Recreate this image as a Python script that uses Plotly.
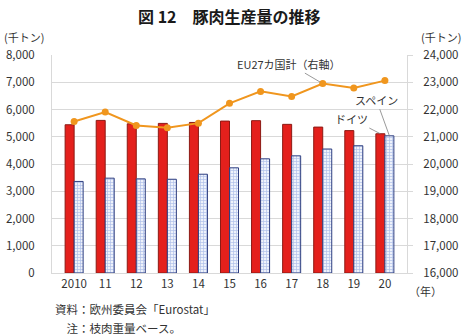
import plotly.graph_objects as go

# Pork production, thousand tonnes
years = ["2010", "11", "12", "13", "14", "15", "16", "17", "18", "19", "20"]
germany = [5440, 5600, 5475, 5490, 5525, 5575, 5590, 5455, 5355, 5225, 5110]
spain = [3360, 3480, 3455, 3440, 3625, 3860, 4190, 4300, 4550, 4670, 5035]
eu27_total = [21560, 21905, 21415, 21330, 21500, 22225, 22665, 22480, 22950, 22790, 23060]

left_ticks = [0, 1000, 2000, 3000, 4000, 5000, 6000, 7000, 8000]
right_ticks = [16000, 17000, 18000, 19000, 20000, 21000, 22000, 23000, 24000]

FONT = "Noto Sans CJK JP"
GRID = "#d9d9d9"
BARGAP = 0.42

fig = go.Figure()

fig.add_trace(go.Bar(
    x=years, y=germany, name="ドイツ",
    marker=dict(color="#e4201c", line=dict(color="#8c1a14", width=1)),
))
fig.add_trace(go.Bar(
    x=years, y=spain, name="スペイン",
    marker=dict(
        color="#e3e9f8",
        line=dict(color="#2f3f80", width=1),
        pattern=dict(shape="+", fgcolor="#6f8fd8", bgcolor="#eef2fb", size=3, solidity=0.4),
    ),
))
fig.add_trace(go.Scatter(
    x=years, y=eu27_total, name="EU27カ国計（右軸）", yaxis="y2",
    mode="lines+markers",
    line=dict(color="#f0961e", width=2),
    marker=dict(color="#f0961e", size=7),
))

# Offset of each bar from its category centre (category units)
half = (1 - BARGAP) / 4
last = len(years) - 1

annotations = [
    dict(x=8, y=eu27_total[8], xref="x", yref="y2", text="EU27カ国計（右軸）",
         showarrow=True, arrowhead=0, arrowwidth=0.8, arrowcolor="#7f7f7f",
         ax=-34, ay=-20, standoff=3),
    dict(x=last + half, y=spain[last], xref="x", yref="y", text="スペイン",
         showarrow=True, arrowhead=0, arrowwidth=0.8, arrowcolor="#7f7f7f",
         ax=-13, ay=-36, standoff=0),
    dict(x=last - half, y=germany[last], xref="x", yref="y", text="ドイツ",
         showarrow=True, arrowhead=0, arrowwidth=0.8, arrowcolor="#7f7f7f",
         ax=-29, ay=-15, standoff=0),
    dict(x=0.5, y=1, xref="paper", yref="paper", yanchor="top", yshift=53,
         text="<b>図 12　豚肉生産量の推移</b>", showarrow=False,
         font=dict(size=16, color="#1a1a1a")),
    dict(x=0, y=1, xref="paper", yref="paper", xanchor="left", yanchor="bottom",
         xshift=-50, yshift=8, text="(千トン)", showarrow=False),
    dict(x=1, y=1, xref="paper", yref="paper", xanchor="left", yanchor="bottom",
         xshift=12, yshift=8, text="(千トン)", showarrow=False),
    dict(x=1, y=0, xref="paper", yref="paper", xanchor="left", yanchor="top",
         xshift=0, yshift=-8, text="（年）", showarrow=False),
    dict(x=0, y=0, xref="paper", yref="paper", xanchor="left", yanchor="top",
         xshift=1, yshift=-26, text="資料：欧州委員会「Eurostat」", showarrow=False,
         font=dict(size=11.5)),
    dict(x=0, y=0, xref="paper", yref="paper", xanchor="left", yanchor="top",
         xshift=1, yshift=-45, text="　注：枝肉重量ベース。", showarrow=False,
         font=dict(size=11.5)),
]

fig.update_layout(
    width=467, height=336,
    margin=dict(l=52, r=60, t=55, b=63),
    paper_bgcolor="white", plot_bgcolor="white",
    font=dict(family=FONT, size=11, color="#333333"),
    showlegend=False,
    barmode="group", bargap=BARGAP, bargroupgap=0,
    annotations=annotations,
    xaxis=dict(
        type="category", showline=True, linecolor=GRID, linewidth=1,
        ticks="", showgrid=False, tickfont=dict(size=11.5), automargin=False,
    ),
    yaxis=dict(
        range=[0, 8000], tickvals=left_ticks, tickformat=",",
        showgrid=True, gridcolor=GRID, gridwidth=1,
        showline=True, linecolor=GRID, linewidth=1,
        ticklabelstandoff=14, zeroline=False, tickfont=dict(size=11.5),
        automargin=False,
    ),
    yaxis2=dict(
        range=[16000, 24000], tickvals=right_ticks, tickformat=",",
        overlaying="y", side="right", showgrid=False,
        showline=True, linecolor=GRID, linewidth=1,
        ticks="outside", ticklen=5, tickcolor=GRID,
        ticklabelstandoff=8, zeroline=False, tickfont=dict(size=11.5),
        automargin=False,
    ),
)

fig.write_html("out.html")
